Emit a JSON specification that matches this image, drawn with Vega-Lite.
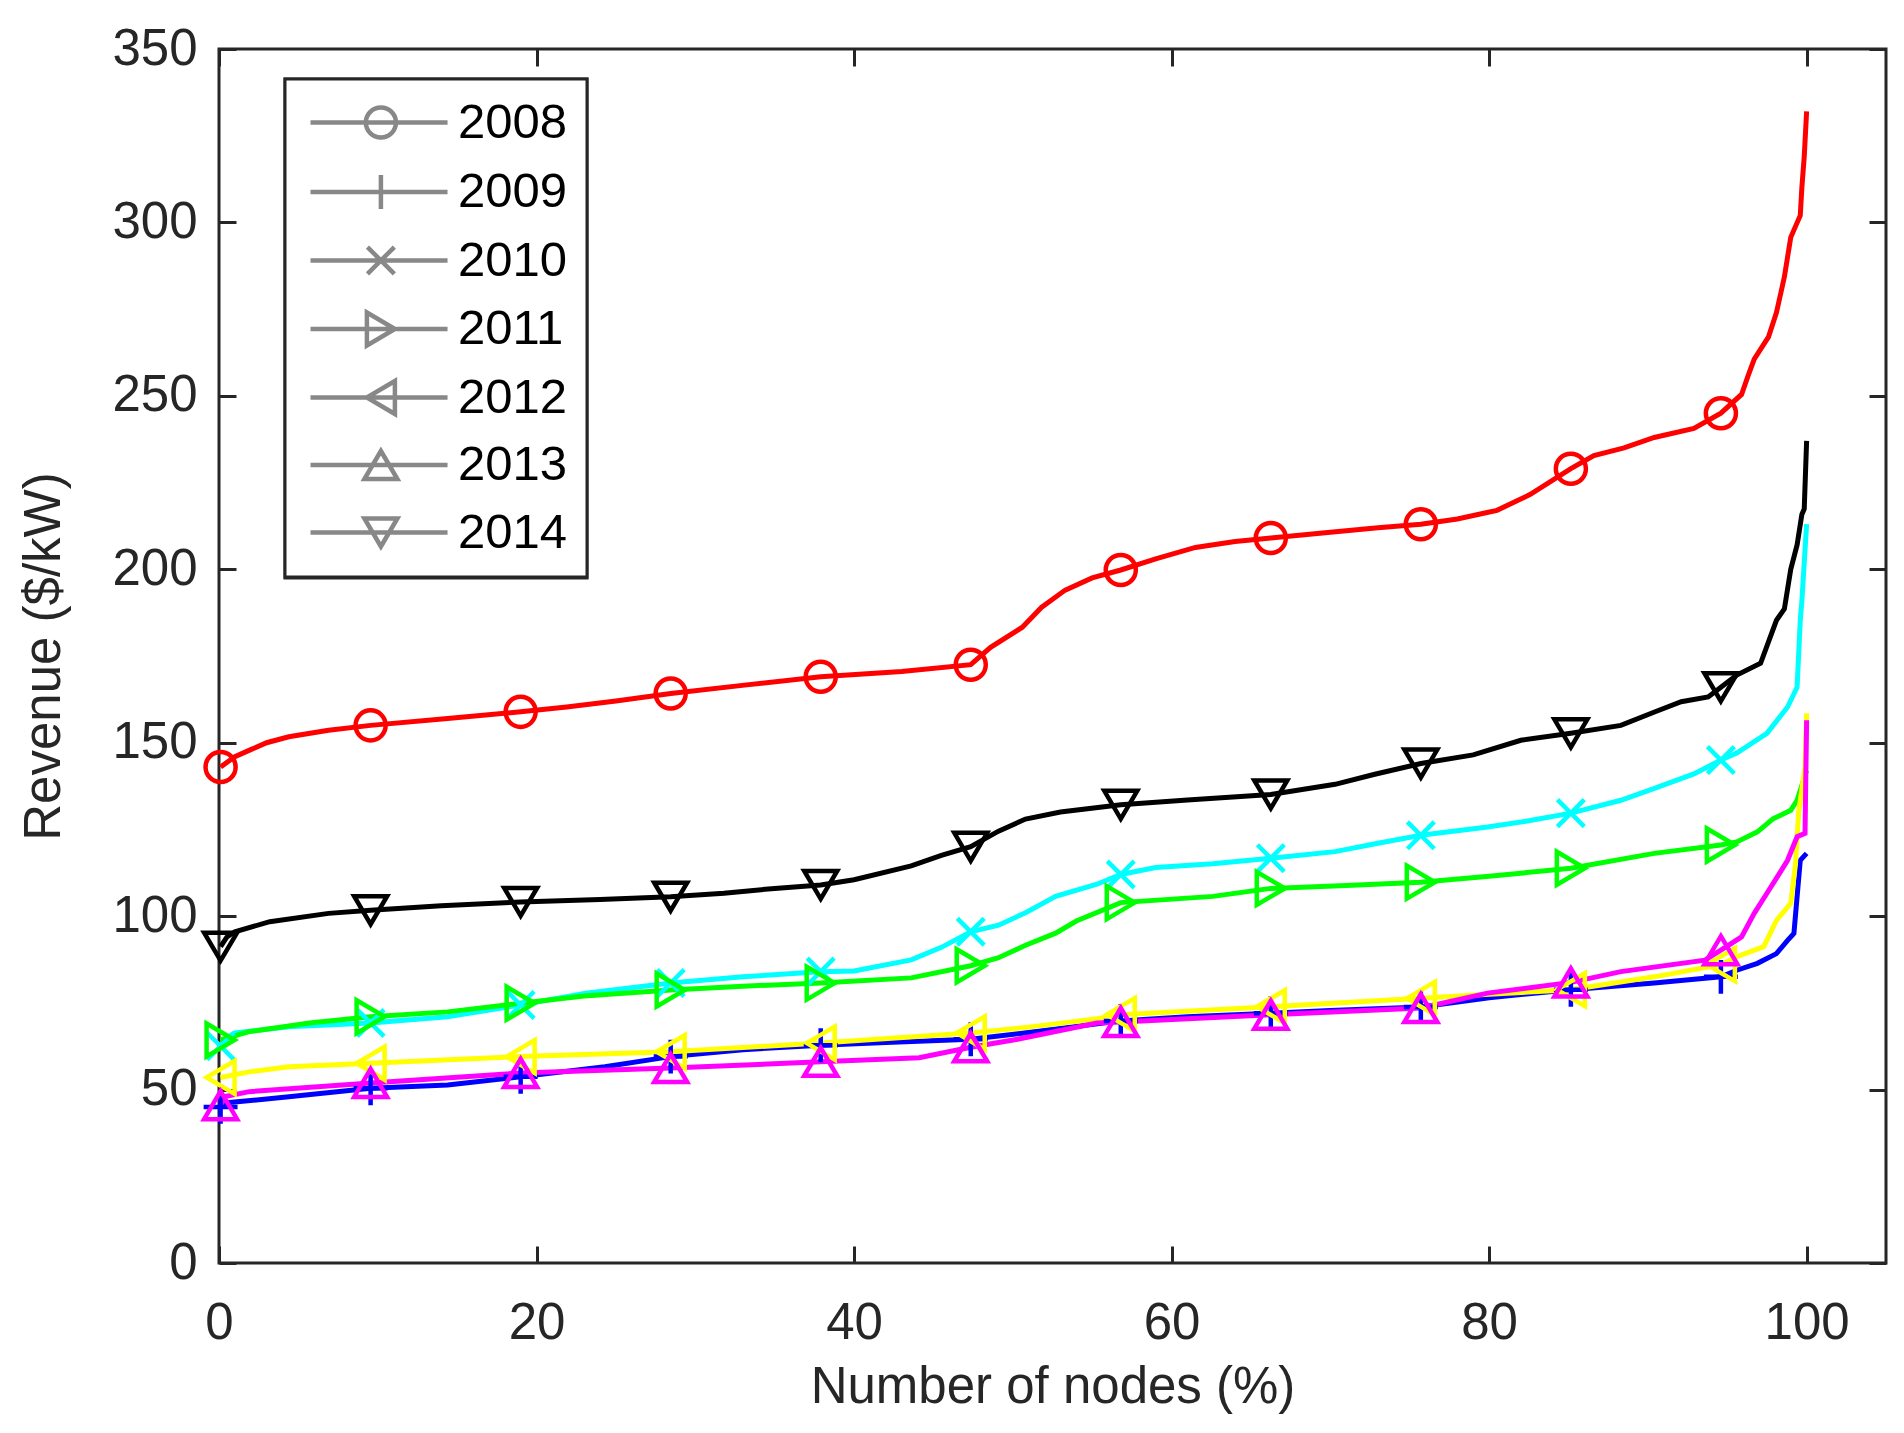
{
  "$schema": "https://vega.github.io/schema/vega-lite/v6.json",
  "width": 1667,
  "height": 1214,
  "autosize": "none",
  "padding": {"left": 219, "top": 49, "right": 18, "bottom": 170},
  "background": "white",
  "datasets": {
    "curves": [
      {"year": "2008", "pct": 0.1, "rev": 143}, {"year": "2008", "pct": 1, "rev": 146}, {"year": "2008", "pct": 2, "rev": 148},
      {"year": "2008", "pct": 3, "rev": 150}, {"year": "2008", "pct": 4.4, "rev": 151.7}, {"year": "2008", "pct": 6.9, "rev": 153.6},
      {"year": "2008", "pct": 9.55, "rev": 155}, {"year": "2008", "pct": 14.4, "rev": 157}, {"year": "2008", "pct": 19, "rev": 158.9},
      {"year": "2008", "pct": 21.9, "rev": 160.3}, {"year": "2008", "pct": 25, "rev": 162}, {"year": "2008", "pct": 28.45, "rev": 164.2},
      {"year": "2008", "pct": 33.1, "rev": 166.6}, {"year": "2008", "pct": 37.9, "rev": 169}, {"year": "2008", "pct": 43, "rev": 170.5},
      {"year": "2008", "pct": 47.35, "rev": 172.5}, {"year": "2008", "pct": 48.6, "rev": 177.5}, {"year": "2008", "pct": 50.6, "rev": 183.3},
      {"year": "2008", "pct": 51.8, "rev": 189}, {"year": "2008", "pct": 53.3, "rev": 194}, {"year": "2008", "pct": 55, "rev": 197.5},
      {"year": "2008", "pct": 56.8, "rev": 199.8}, {"year": "2008", "pct": 59, "rev": 203}, {"year": "2008", "pct": 61.5, "rev": 206.3},
      {"year": "2008", "pct": 64, "rev": 208}, {"year": "2008", "pct": 66.25, "rev": 209}, {"year": "2008", "pct": 70, "rev": 210.7},
      {"year": "2008", "pct": 73, "rev": 212}, {"year": "2008", "pct": 75.7, "rev": 213}, {"year": "2008", "pct": 78, "rev": 214.5},
      {"year": "2008", "pct": 80.5, "rev": 217}, {"year": "2008", "pct": 82.6, "rev": 221.6}, {"year": "2008", "pct": 85.15, "rev": 229},
      {"year": "2008", "pct": 86.6, "rev": 232.8}, {"year": "2008", "pct": 88.5, "rev": 235}, {"year": "2008", "pct": 90.4, "rev": 238},
      {"year": "2008", "pct": 92.9, "rev": 240.6}, {"year": "2008", "pct": 94.6, "rev": 245}, {"year": "2008", "pct": 95.9, "rev": 250.4},
      {"year": "2008", "pct": 96.3, "rev": 255.6}, {"year": "2008", "pct": 96.7, "rev": 260.6}, {"year": "2008", "pct": 97.6, "rev": 267},
      {"year": "2008", "pct": 98.1, "rev": 274}, {"year": "2008", "pct": 98.6, "rev": 284.3}, {"year": "2008", "pct": 99, "rev": 295.7},
      {"year": "2008", "pct": 99.6, "rev": 302}, {"year": "2008", "pct": 99.7, "rev": 310}, {"year": "2008", "pct": 99.85, "rev": 319},
      {"year": "2008", "pct": 100, "rev": 332},

      {"year": "2009", "pct": 0.1, "rev": 45}, {"year": "2009", "pct": 0.5, "rev": 46.2}, {"year": "2009", "pct": 4.4, "rev": 47.9},
      {"year": "2009", "pct": 9.55, "rev": 50.4}, {"year": "2009", "pct": 14.4, "rev": 51.3}, {"year": "2009", "pct": 19, "rev": 53.7},
      {"year": "2009", "pct": 24.3, "rev": 56.6}, {"year": "2009", "pct": 28.45, "rev": 59.5}, {"year": "2009", "pct": 33, "rev": 61.5},
      {"year": "2009", "pct": 37.9, "rev": 62.8}, {"year": "2009", "pct": 42, "rev": 63.6}, {"year": "2009", "pct": 47.35, "rev": 64.5},
      {"year": "2009", "pct": 52, "rev": 67}, {"year": "2009", "pct": 56.8, "rev": 69.8}, {"year": "2009", "pct": 61, "rev": 71},
      {"year": "2009", "pct": 66.25, "rev": 72}, {"year": "2009", "pct": 70, "rev": 72.8}, {"year": "2009", "pct": 75.7, "rev": 73.8},
      {"year": "2009", "pct": 80, "rev": 76.5}, {"year": "2009", "pct": 85.15, "rev": 78.8}, {"year": "2009", "pct": 90.4, "rev": 80.7},
      {"year": "2009", "pct": 94.6, "rev": 82.5}, {"year": "2009", "pct": 95.6, "rev": 84.4}, {"year": "2009", "pct": 96.9, "rev": 86.4},
      {"year": "2009", "pct": 98.1, "rev": 89.2}, {"year": "2009", "pct": 98.8, "rev": 93}, {"year": "2009", "pct": 99.2, "rev": 95},
      {"year": "2009", "pct": 99.4, "rev": 105.6}, {"year": "2009", "pct": 99.6, "rev": 116.1}, {"year": "2009", "pct": 100, "rev": 118.1},

      {"year": "2010", "pct": 0.1, "rev": 62.5}, {"year": "2010", "pct": 0.5, "rev": 65}, {"year": "2010", "pct": 1, "rev": 66.3},
      {"year": "2010", "pct": 4.4, "rev": 68.1}, {"year": "2010", "pct": 9.55, "rev": 69.2}, {"year": "2010", "pct": 14.4, "rev": 71},
      {"year": "2010", "pct": 19, "rev": 74.4}, {"year": "2010", "pct": 23.1, "rev": 77.8}, {"year": "2010", "pct": 28.45, "rev": 80.7},
      {"year": "2010", "pct": 33, "rev": 82.5}, {"year": "2010", "pct": 37.9, "rev": 84}, {"year": "2010", "pct": 40, "rev": 84.2},
      {"year": "2010", "pct": 43.6, "rev": 87.4}, {"year": "2010", "pct": 45.5, "rev": 91}, {"year": "2010", "pct": 47.35, "rev": 95.5},
      {"year": "2010", "pct": 49.1, "rev": 97.4}, {"year": "2010", "pct": 50.8, "rev": 101}, {"year": "2010", "pct": 52.7, "rev": 105.7},
      {"year": "2010", "pct": 55.3, "rev": 109.2}, {"year": "2010", "pct": 56.8, "rev": 112}, {"year": "2010", "pct": 59, "rev": 114},
      {"year": "2010", "pct": 62.6, "rev": 115.1}, {"year": "2010", "pct": 66.25, "rev": 116.7}, {"year": "2010", "pct": 70.3, "rev": 118.6},
      {"year": "2010", "pct": 73, "rev": 121}, {"year": "2010", "pct": 75.7, "rev": 123.3}, {"year": "2010", "pct": 79.9, "rev": 125.7},
      {"year": "2010", "pct": 82.5, "rev": 127.5}, {"year": "2010", "pct": 85.15, "rev": 129.7}, {"year": "2010", "pct": 88.3, "rev": 133.4},
      {"year": "2010", "pct": 90.5, "rev": 137}, {"year": "2010", "pct": 92.9, "rev": 141}, {"year": "2010", "pct": 94.6, "rev": 145},
      {"year": "2010", "pct": 95.6, "rev": 147}, {"year": "2010", "pct": 97.5, "rev": 152.7}, {"year": "2010", "pct": 98.8, "rev": 160.3},
      {"year": "2010", "pct": 99.4, "rev": 166}, {"year": "2010", "pct": 99.6, "rev": 185.3}, {"year": "2010", "pct": 99.7, "rev": 190.8},
      {"year": "2010", "pct": 100, "rev": 213},

      {"year": "2011", "pct": 0.1, "rev": 64.3}, {"year": "2011", "pct": 1.9, "rev": 66.7}, {"year": "2011", "pct": 5.7, "rev": 69.2},
      {"year": "2011", "pct": 9.55, "rev": 71}, {"year": "2011", "pct": 14.4, "rev": 72.4}, {"year": "2011", "pct": 19, "rev": 74.9},
      {"year": "2011", "pct": 23, "rev": 77}, {"year": "2011", "pct": 28.45, "rev": 78.7}, {"year": "2011", "pct": 33, "rev": 79.8},
      {"year": "2011", "pct": 37.9, "rev": 80.7}, {"year": "2011", "pct": 43.6, "rev": 82.2}, {"year": "2011", "pct": 47.35, "rev": 85.7},
      {"year": "2011", "pct": 49.1, "rev": 88}, {"year": "2011", "pct": 50.8, "rev": 91.6}, {"year": "2011", "pct": 52.7, "rev": 95.1},
      {"year": "2011", "pct": 54, "rev": 98.6}, {"year": "2011", "pct": 56.8, "rev": 103.9}, {"year": "2011", "pct": 62.6, "rev": 105.7},
      {"year": "2011", "pct": 66.25, "rev": 108}, {"year": "2011", "pct": 71, "rev": 108.8}, {"year": "2011", "pct": 75.7, "rev": 109.8},
      {"year": "2011", "pct": 80, "rev": 111.5}, {"year": "2011", "pct": 85.15, "rev": 113.8}, {"year": "2011", "pct": 90.4, "rev": 118.1},
      {"year": "2011", "pct": 94.6, "rev": 120.5}, {"year": "2011", "pct": 95.6, "rev": 121.4}, {"year": "2011", "pct": 96.9, "rev": 124.3},
      {"year": "2011", "pct": 97.9, "rev": 128.1}, {"year": "2011", "pct": 99, "rev": 130.5}, {"year": "2011", "pct": 99.4, "rev": 133.4},
      {"year": "2011", "pct": 100, "rev": 142},

      {"year": "2012", "pct": 0.1, "rev": 53.5}, {"year": "2012", "pct": 1.9, "rev": 55.1}, {"year": "2012", "pct": 4.4, "rev": 56.6},
      {"year": "2012", "pct": 9.55, "rev": 57.6}, {"year": "2012", "pct": 19, "rev": 59.5}, {"year": "2012", "pct": 28.45, "rev": 60.9},
      {"year": "2012", "pct": 37.9, "rev": 63.4}, {"year": "2012", "pct": 45.4, "rev": 65.7}, {"year": "2012", "pct": 47.35, "rev": 66.3},
      {"year": "2012", "pct": 51, "rev": 68}, {"year": "2012", "pct": 55.3, "rev": 70.4}, {"year": "2012", "pct": 56.8, "rev": 71.6},
      {"year": "2012", "pct": 66.25, "rev": 73.9}, {"year": "2012", "pct": 75.7, "rev": 76.3}, {"year": "2012", "pct": 80, "rev": 77.5},
      {"year": "2012", "pct": 85.15, "rev": 78.8}, {"year": "2012", "pct": 90.4, "rev": 82.5}, {"year": "2012", "pct": 94.6, "rev": 86},
      {"year": "2012", "pct": 95.6, "rev": 88.3}, {"year": "2012", "pct": 97.3, "rev": 91.2}, {"year": "2012", "pct": 98.1, "rev": 98.8},
      {"year": "2012", "pct": 99, "rev": 103.7}, {"year": "2012", "pct": 99.3, "rev": 115}, {"year": "2012", "pct": 99.5, "rev": 130},
      {"year": "2012", "pct": 99.9, "rev": 143}, {"year": "2012", "pct": 100, "rev": 158.5},

      {"year": "2013", "pct": 0.1, "rev": 45.5}, {"year": "2013", "pct": 0.4, "rev": 48}, {"year": "2013", "pct": 1.9, "rev": 49.4},
      {"year": "2013", "pct": 9.55, "rev": 51.9}, {"year": "2013", "pct": 19, "rev": 54.8}, {"year": "2013", "pct": 28.45, "rev": 56.2},
      {"year": "2013", "pct": 37.9, "rev": 58}, {"year": "2013", "pct": 44.1, "rev": 59.2}, {"year": "2013", "pct": 47.35, "rev": 62.2},
      {"year": "2013", "pct": 50.3, "rev": 64.5}, {"year": "2013", "pct": 55.3, "rev": 69.2}, {"year": "2013", "pct": 56.8, "rev": 69.5},
      {"year": "2013", "pct": 66.25, "rev": 71.6}, {"year": "2013", "pct": 75.7, "rev": 73.5}, {"year": "2013", "pct": 79.9, "rev": 77.8},
      {"year": "2013", "pct": 85.15, "rev": 80.9}, {"year": "2013", "pct": 88.3, "rev": 84}, {"year": "2013", "pct": 93.6, "rev": 87.3},
      {"year": "2013", "pct": 94.6, "rev": 90.2}, {"year": "2013", "pct": 95.9, "rev": 94}, {"year": "2013", "pct": 96.7, "rev": 100.8},
      {"year": "2013", "pct": 97.5, "rev": 106.6}, {"year": "2013", "pct": 98.3, "rev": 112.4}, {"year": "2013", "pct": 98.8, "rev": 116.1},
      {"year": "2013", "pct": 99.4, "rev": 122.9}, {"year": "2013", "pct": 99.9, "rev": 123.9}, {"year": "2013", "pct": 100, "rev": 156.5},

      {"year": "2014", "pct": 0.1, "rev": 91.2}, {"year": "2014", "pct": 0.5, "rev": 94}, {"year": "2014", "pct": 1, "rev": 95.5},
      {"year": "2014", "pct": 3.2, "rev": 98.4}, {"year": "2014", "pct": 6.9, "rev": 100.8}, {"year": "2014", "pct": 9.55, "rev": 101.7},
      {"year": "2014", "pct": 14, "rev": 103}, {"year": "2014", "pct": 19, "rev": 104.1}, {"year": "2014", "pct": 24, "rev": 104.8},
      {"year": "2014", "pct": 28.45, "rev": 105.6}, {"year": "2014", "pct": 31.8, "rev": 106.6}, {"year": "2014", "pct": 35, "rev": 108},
      {"year": "2014", "pct": 37.9, "rev": 109}, {"year": "2014", "pct": 40, "rev": 110.5}, {"year": "2014", "pct": 43.6, "rev": 114.5},
      {"year": "2014", "pct": 45.5, "rev": 117.5}, {"year": "2014", "pct": 47.35, "rev": 120}, {"year": "2014", "pct": 49.1, "rev": 124.5},
      {"year": "2014", "pct": 50.8, "rev": 128}, {"year": "2014", "pct": 53, "rev": 130}, {"year": "2014", "pct": 56.8, "rev": 132.1},
      {"year": "2014", "pct": 61, "rev": 133.5}, {"year": "2014", "pct": 66.25, "rev": 135.1}, {"year": "2014", "pct": 70.3, "rev": 138},
      {"year": "2014", "pct": 72.8, "rev": 140.9}, {"year": "2014", "pct": 75.7, "rev": 144}, {"year": "2014", "pct": 79, "rev": 146.5},
      {"year": "2014", "pct": 82, "rev": 150.7}, {"year": "2014", "pct": 85.15, "rev": 152.7}, {"year": "2014", "pct": 88.3, "rev": 155},
      {"year": "2014", "pct": 90.5, "rev": 159}, {"year": "2014", "pct": 92.1, "rev": 161.8}, {"year": "2014", "pct": 93.8, "rev": 163.2},
      {"year": "2014", "pct": 94.6, "rev": 166}, {"year": "2014", "pct": 95.6, "rev": 169.5}, {"year": "2014", "pct": 97.1, "rev": 172.9},
      {"year": "2014", "pct": 98.1, "rev": 185.3}, {"year": "2014", "pct": 98.6, "rev": 188.6}, {"year": "2014", "pct": 99, "rev": 200},
      {"year": "2014", "pct": 99.4, "rev": 207}, {"year": "2014", "pct": 99.7, "rev": 215.8}, {"year": "2014", "pct": 99.85, "rev": 217.4},
      {"year": "2014", "pct": 100, "rev": 237}
    ],
    "markers": [
      {"year": "2008", "pct": 0.1, "rev": 143}, {"year": "2008", "pct": 9.55, "rev": 155}, {"year": "2008", "pct": 19, "rev": 158.9},
      {"year": "2008", "pct": 28.45, "rev": 164.2}, {"year": "2008", "pct": 37.9, "rev": 169}, {"year": "2008", "pct": 47.35, "rev": 172.5},
      {"year": "2008", "pct": 56.8, "rev": 199.8}, {"year": "2008", "pct": 66.25, "rev": 209}, {"year": "2008", "pct": 75.7, "rev": 213},
      {"year": "2008", "pct": 85.15, "rev": 229}, {"year": "2008", "pct": 94.6, "rev": 245},
      {"year": "2009", "pct": 0.1, "rev": 45}, {"year": "2009", "pct": 9.55, "rev": 50.4}, {"year": "2009", "pct": 19, "rev": 53.7},
      {"year": "2009", "pct": 28.45, "rev": 59.5}, {"year": "2009", "pct": 37.9, "rev": 62.8}, {"year": "2009", "pct": 47.35, "rev": 64.5},
      {"year": "2009", "pct": 56.8, "rev": 69.8}, {"year": "2009", "pct": 66.25, "rev": 72}, {"year": "2009", "pct": 75.7, "rev": 73.8},
      {"year": "2009", "pct": 85.15, "rev": 78.8}, {"year": "2009", "pct": 94.6, "rev": 82.5},
      {"year": "2010", "pct": 0.1, "rev": 62.5}, {"year": "2010", "pct": 9.55, "rev": 69.2}, {"year": "2010", "pct": 19, "rev": 74.4},
      {"year": "2010", "pct": 28.45, "rev": 80.7}, {"year": "2010", "pct": 37.9, "rev": 84}, {"year": "2010", "pct": 47.35, "rev": 95.5},
      {"year": "2010", "pct": 56.8, "rev": 112}, {"year": "2010", "pct": 66.25, "rev": 116.7}, {"year": "2010", "pct": 75.7, "rev": 123.3},
      {"year": "2010", "pct": 85.15, "rev": 129.7}, {"year": "2010", "pct": 94.6, "rev": 145},
      {"year": "2011", "pct": 0.1, "rev": 64.3}, {"year": "2011", "pct": 9.55, "rev": 71}, {"year": "2011", "pct": 19, "rev": 74.9},
      {"year": "2011", "pct": 28.45, "rev": 78.7}, {"year": "2011", "pct": 37.9, "rev": 80.7}, {"year": "2011", "pct": 47.35, "rev": 85.7},
      {"year": "2011", "pct": 56.8, "rev": 103.9}, {"year": "2011", "pct": 66.25, "rev": 108}, {"year": "2011", "pct": 75.7, "rev": 109.8},
      {"year": "2011", "pct": 85.15, "rev": 113.8}, {"year": "2011", "pct": 94.6, "rev": 120.5},
      {"year": "2012", "pct": 0.1, "rev": 53.5}, {"year": "2012", "pct": 9.55, "rev": 57.6}, {"year": "2012", "pct": 19, "rev": 59.5},
      {"year": "2012", "pct": 28.45, "rev": 60.9}, {"year": "2012", "pct": 37.9, "rev": 63.4}, {"year": "2012", "pct": 47.35, "rev": 66.3},
      {"year": "2012", "pct": 56.8, "rev": 71.6}, {"year": "2012", "pct": 66.25, "rev": 73.9}, {"year": "2012", "pct": 75.7, "rev": 76.3},
      {"year": "2012", "pct": 85.15, "rev": 78.8}, {"year": "2012", "pct": 94.6, "rev": 86},
      {"year": "2013", "pct": 0.1, "rev": 45.5}, {"year": "2013", "pct": 9.55, "rev": 51.9}, {"year": "2013", "pct": 19, "rev": 54.8},
      {"year": "2013", "pct": 28.45, "rev": 56.2}, {"year": "2013", "pct": 37.9, "rev": 58}, {"year": "2013", "pct": 47.35, "rev": 62.2},
      {"year": "2013", "pct": 56.8, "rev": 69.5}, {"year": "2013", "pct": 66.25, "rev": 71.6}, {"year": "2013", "pct": 75.7, "rev": 73.5},
      {"year": "2013", "pct": 85.15, "rev": 80.9}, {"year": "2013", "pct": 94.6, "rev": 90.2},
      {"year": "2014", "pct": 0.1, "rev": 91.2}, {"year": "2014", "pct": 9.55, "rev": 101.7}, {"year": "2014", "pct": 19, "rev": 104.1},
      {"year": "2014", "pct": 28.45, "rev": 105.6}, {"year": "2014", "pct": 37.9, "rev": 109}, {"year": "2014", "pct": 47.35, "rev": 120},
      {"year": "2014", "pct": 56.8, "rev": 132.1}, {"year": "2014", "pct": 66.25, "rev": 135.1}, {"year": "2014", "pct": 75.7, "rev": 144},
      {"year": "2014", "pct": 85.15, "rev": 152.7}, {"year": "2014", "pct": 94.6, "rev": 166}
    ]
  },
  "layer": [
    {
      "data": {"name": "curves"},
      "mark": {"type": "line", "strokeWidth": 5},
      "encoding": {
        "x": {
          "field": "pct", "type": "quantitative",
          "scale": {"domain": [0, 105], "nice": false},
          "axis": {"orient": "bottom", "values": [0, 20, 40, 60, 80, 100], "title": "Number of nodes (%)", "labelPadding": 52, "titlePadding": 14, "labelFlush": false}
        },
        "y": {
          "field": "rev", "type": "quantitative",
          "scale": {"domain": [0, 350], "nice": false},
          "axis": {"orient": "left", "values": [0, 50, 100, 150, 200, 250, 300, 350], "title": "Revenue ($/kW)", "labelPadding": 39, "titlePadding": 41, "labelFlush": false}
        },
        "color": {
          "field": "year", "type": "nominal",
          "scale": {
            "domain": ["2008", "2009", "2010", "2011", "2012", "2013", "2014"],
            "range": ["#FF0000", "#0000FF", "#00FFFF", "#00FF00", "#FFFF00", "#FF00FF", "#000000"]
          },
          "legend": {"title": null}
        },
        "detail": {"field": "year"}
      }
    },
    {
      "data": {"name": "markers"},
      "mark": {"type": "point", "filled": false, "strokeWidth": 4.5, "size": 1024, "opacity": 1},
      "encoding": {
        "x": {
          "field": "pct", "type": "quantitative",
          "axis": {"orient": "top", "values": [0, 20, 40, 60, 80, 100], "labels": false, "title": null}
        },
        "y": {
          "field": "rev", "type": "quantitative",
          "axis": {"orient": "right", "values": [0, 50, 100, 150, 200, 250, 300, 350], "labels": false, "title": null}
        },
        "color": {"field": "year", "type": "nominal", "legend": {"title": null}},
        "shape": {
          "field": "year", "type": "nominal",
          "scale": {
            "range": [
              "M0.94,0A0.94,0.94,0,1,1,-0.94,0A0.94,0.94,0,1,1,0.94,0Z",
              "M0,-1.06V1.06M-1.06,0H1.06",
              "M-0.84,-0.84L0.84,0.84M-0.84,0.84L0.84,-0.84",
              "M0.875,0L-0.875,-1.03L-0.875,1.03Z",
              "M-0.875,0L0.875,-1.03L0.875,1.03Z",
              "M0,-0.875L1.03,0.875L-1.03,0.875Z",
              "M0,0.875L1.03,-0.875L-1.03,-0.875Z"
            ]
          },
          "legend": null
        }
      }
    },
    {
      "data": {"name": "markers"},
      "transform": [{"filter": "false"}],
      "mark": {"type": "point", "filled": false, "strokeWidth": 4.5, "size": 1024, "opacity": 1},
      "encoding": {
        "color": {"field": "year", "type": "nominal", "legend": {"title": null}},
        "shape": {
          "field": "year", "type": "nominal",
          "scale": {
            "domain": ["2008", "2009", "2010", "2011", "2012", "2013", "2014"],
            "range": [
              "M-1.125,0H7.44M4.215,0A0.94,0.94,0,1,1,2.335,0A0.94,0.94,0,1,1,4.215,0Z",
              "M-1.125,0H7.44M3.275,-1.06V1.06",
              "M-1.125,0H7.44M2.435,-0.84L4.115,0.84M2.435,0.84L4.115,-0.84",
              "M-1.125,0H7.44M4.15,0L2.4,-1.03L2.4,1.03Z",
              "M-1.125,0H7.44M2.4,0L4.15,-1.03L4.15,1.03Z",
              "M-1.125,0H7.44M3.275,-0.875L4.305,0.875L2.245,0.875Z",
              "M-1.125,0H7.44M3.275,0.875L4.305,-0.875L2.245,-0.875Z"
            ]
          },
          "legend": {"title": null}
        }
      }
    }
  ],
  "resolve": {"scale": {"shape": "independent"}, "axis": {"x": "independent", "y": "independent"}},
  "config": {
    "view": {"stroke": "#262626", "strokeWidth": 3},
    "legend": {
      "orient": "none", "legendX": 66, "legendY": 30, "padding": 19,
      "strokeColor": "#262626", "fillColor": "white", "strokeWidth": 3,
      "labelFont": "Liberation Sans", "labelFontSize": 49, "labelColor": "#000000",
      "labelOffset": 105, "rowPadding": 17.5, "symbolSize": 1024, "symbolStrokeWidth": 4.5
    },
    "axis": {
      "grid": false, "domain": false,
      "tickSize": -17, "tickWidth": 3, "tickColor": "#262626",
      "labelFont": "Liberation Sans", "labelFontSize": 51, "labelColor": "#262626",
      "titleFont": "Liberation Sans", "titleFontSize": 51, "titleFontWeight": "normal", "titleColor": "#262626"
    }
  }
}
